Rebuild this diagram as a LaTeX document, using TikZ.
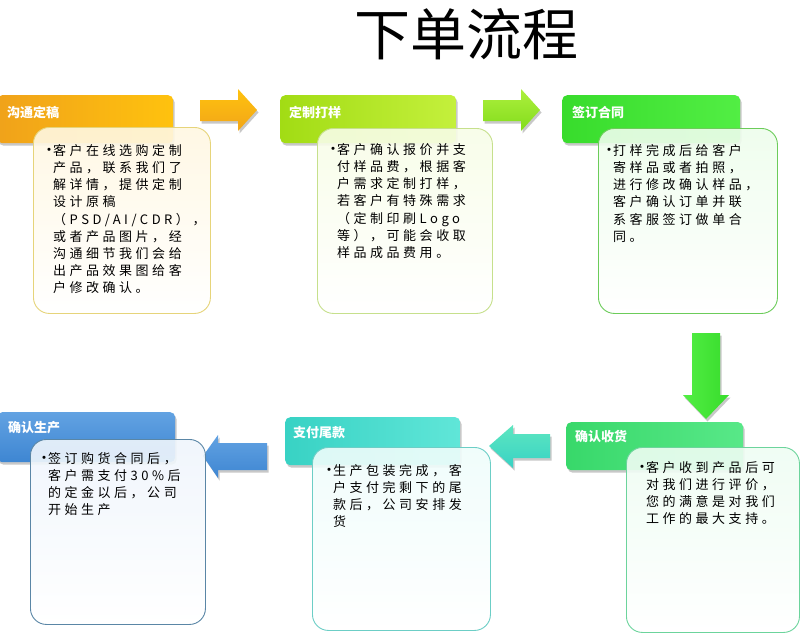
\documentclass[tikz,border=0pt]{standalone}
\usepackage{fontspec}
\setmainfont{Noto Sans CJK SC}
\newfontfamily\cjk{Noto Sans CJK SC}
\newfontfamily\cjksp[LetterSpace=27]{Noto Sans CJK SC}
\usetikzlibrary{shadows}
\definecolor{oA}{HTML}{F0A21A}\definecolor{oB}{HTML}{FFC20E}
\definecolor{yA}{HTML}{A2DC14}\definecolor{yB}{HTML}{C4F03C}
\definecolor{gA}{HTML}{38DC2C}\definecolor{gB}{HTML}{52EE44}
\definecolor{mA}{HTML}{38D86A}\definecolor{mB}{HTML}{58E888}
\definecolor{tA}{HTML}{38D2C4}\definecolor{tB}{HTML}{60E6D8}
\definecolor{bA}{HTML}{3E86D2}\definecolor{bB}{HTML}{62A2E2}
\definecolor{bd1}{HTML}{E6D47A}\definecolor{bd2}{HTML}{C6E08C}
\definecolor{bd3}{HTML}{6CCC5A}\definecolor{bd4}{HTML}{6CD49C}
\definecolor{bd5}{HTML}{6CCEC6}\definecolor{bd6}{HTML}{5A86A6}
\newcommand{\bul}{\llap{{\cjk\fontsize{15}{17.2}\selectfont •}\kern-3.5pt}}
\begin{document}
\begin{tikzpicture}[x=1pt,y=-1pt,
  hdr/.style={anchor=north west, inner sep=0pt, rounded corners=5pt,
    drop shadow={shadow xshift=1.5pt, shadow yshift=-2.5pt, opacity=0.3, fill=black!70}},
  htxt/.style={anchor=west, text=white, font=\cjk\bfseries\fontsize{13}{15}\selectfont, inner sep=0pt},
  cbox/.style={anchor=north west, inner sep=0pt, rounded corners=16pt, line width=0.9pt, fill opacity=0.9},
  ctxt/.style={anchor=north west, inner sep=0pt, align=left, font=\cjksp\fontsize{13}{17.2}\selectfont, text=black},
  blk/.style={drop shadow={shadow xshift=1.5pt, shadow yshift=-2.5pt, opacity=0.3, fill=black!70}}
]
\useasboundingbox (0,0) rectangle (800,638);
\fill[white] (0,0) rectangle (800,638);

% title
\node[font=\cjk\fontsize{56}{60}\selectfont, inner sep=0pt] (title) at (466,34) {下单流程};

% headers
\node[hdr, left color=oA, right color=oB, minimum width=176pt, minimum height=48pt] (h1) at (-3,95) {};
\node[hdr, left color=yA, right color=yB, minimum width=176pt, minimum height=48pt] (h2) at (280,95) {};
\node[hdr, left color=gA, right color=gB, minimum width=178pt, minimum height=48pt] (h3) at (562,95) {};
\node[hdr, left color=mA, right color=mB, minimum width=177pt, minimum height=48pt] (h4) at (566,422) {};
\node[hdr, left color=tA, right color=tB, minimum width=175pt, minimum height=48pt] (h5) at (285,417) {};
\node[hdr, top color=bB, bottom color=bA, minimum width=178pt, minimum height=50pt] (h6) at (-3,412) {};

\node[htxt] (t1) at (7,112) {沟通定稿};
\node[htxt] (t2) at (289,112) {定制打样};
\node[htxt] (t3) at (572,112) {签订合同};
\node[htxt] (t4) at (575,437) {确认收货};
\node[htxt] (t5) at (293,433) {支付尾款};
\node[htxt] (t6) at (8,428) {确认生产};

% block arrows
\shade[blk, top color=oB, bottom color=oA!90!oB]
  (200,100) -- (238,100) -- (238,89) -- (257,110) -- (238,131) -- (238,121) -- (200,121) -- cycle;
\shade[blk, top color=yB!80!gB, bottom color=yA!70!gA]
  (483,100) -- (521,100) -- (521,89) -- (540,110) -- (521,131) -- (521,121) -- (483,121) -- cycle;
\shade[blk, left color=gB, right color=gA]
  (692,333) -- (720,333) -- (720,395) -- (729,395) -- (706,419) -- (683,395) -- (692,395) -- cycle;
\shade[blk, top color=tB!70!mB, bottom color=tA]
  (550,434) -- (513,434) -- (513,425) -- (489,446) -- (513,468) -- (513,458) -- (550,458) -- cycle;
\shade[blk, top color=bB, bottom color=bA]
  (267,443) -- (218,443) -- (218,435) -- (203,456) -- (218,478) -- (218,470) -- (267,470) -- cycle;

% content boxes
\node[cbox, draw=bd1, top color=oB!12, bottom color=white, minimum width=177pt, minimum height=186pt] (b1) at (33,127) {};
\node[cbox, draw=bd2, top color=yB!12, bottom color=white, minimum width=175pt, minimum height=185pt] (b2) at (317,128) {};
\node[cbox, draw=bd3, top color=gB!10, bottom color=white, minimum width=179pt, minimum height=185pt] (b3) at (598,128) {};
\node[cbox, draw=bd4, top color=mB!10, bottom color=white, minimum width=173pt, minimum height=185pt] (b4) at (626,447) {};
\node[cbox, draw=bd5, top color=tB!10, bottom color=white, minimum width=178pt, minimum height=183pt] (b5) at (312,447) {};
\node[cbox, draw=bd6, top color=bB!10, bottom color=white, minimum width=175pt, minimum height=185pt] (b6) at (30,439) {};

% content texts
\node[ctxt] (c1) at (53,144) {\bul 客户在线选购定制\\产品，联系我们了\\解详情，提供定制\\设计原稿\\（PSD/AI/CDR），\\或者产品图片，经\\沟通细节我们会给\\出产品效果图给客\\户修改确认。};
\node[ctxt] (c2) at (337,143) {\bul 客户确认报价并支\\付样品费，根据客\\户需求定制打样，\\若客户有特殊需求\\（定制印刷Logo\\等），可能会收取\\样品成品费用。};
\node[ctxt] (c3) at (613,144) {\bul 打样完成后给客户\\寄样品或者拍照，\\进行修改确认样品，\\客户确认订单并联\\系客服签订做单合\\同。};
\node[ctxt] (c4) at (646,461) {\bul 客户收到产品后可\\对我们进行评价，\\您的满意是对我们\\工作的最大支持。};
\node[ctxt] (c5) at (333,464) {\bul 生产包装完成，客\\户支付完剩下的尾\\款后，公司安排发\\货};
\node[ctxt] (c6) at (48,452) {\bul 签订购货合同后，\\客户需支付30\%后\\的定金以后，公司\\开始生产};
\end{tikzpicture}
\end{document}
